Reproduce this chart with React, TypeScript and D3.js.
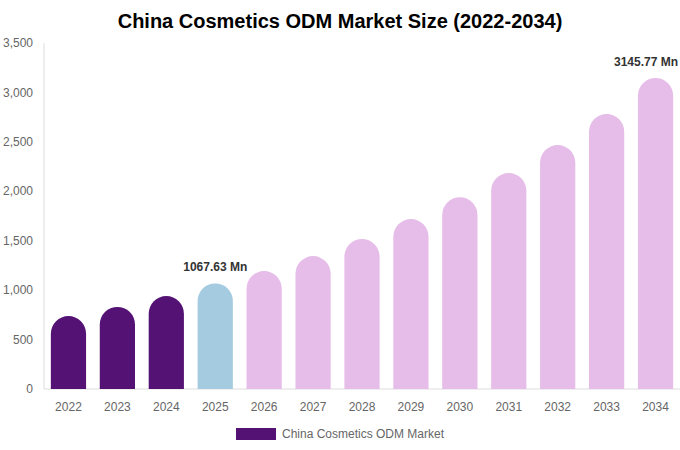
import React, { useEffect, useRef } from 'react';
import * as d3 from 'd3';

const years = ['2022', '2023', '2024', '2025', '2026', '2027', '2028', '2029', '2030', '2031', '2032', '2033', '2034'];
const values = [738, 830, 940, 1067.63, 1193, 1345, 1517, 1719, 1940, 2184, 2467, 2781, 3145.77];
// which bars are historic / base / forecast
const phases = ['hist', 'hist', 'hist', 'base', 'fc', 'fc', 'fc', 'fc', 'fc', 'fc', 'fc', 'fc', 'fc'];
const yTicks = [0, 500, 1000, 1500, 2000, 2500, 3000, 3500];
const labelled = ['2025', '2034'];

const W = 680;
const H = 450;

const App: React.FC = () => {
  const svgRef = useRef<SVGSVGElement>(null);

  useEffect(() => {
    if (!svgRef.current) return;
    const svg = d3.select(svgRef.current);
    svg.selectAll('*').remove();

    const margin = { top: 43, right: 0, bottom: 61, left: 44 };
    const width = W - margin.left - margin.right;
    const height = H - margin.top - margin.bottom;
    const font = 'Liberation Sans, Arial, sans-serif';

    const colors: Record<string, string> = { hist: '#541275', base: '#a4cbdf', fc: '#e6bce8' };

    svg.append('text')
      .attr('x', W / 2)
      .attr('y', 28)
      .attr('text-anchor', 'middle')
      .attr('font-family', font)
      .attr('font-size', 20)
      .attr('font-weight', 'bold')
      .attr('fill', '#000')
      .text('China Cosmetics ODM Market Size (2022-2034)');

    const g = svg.append('g').attr('transform', `translate(${margin.left},${margin.top})`);

    const x = d3.scaleBand().domain(years).range([0, width]).paddingInner(0.28).paddingOuter(0.14);
    const y = d3.scaleLinear().domain([0, 3500]).range([height, 0]);

    // axis lines
    g.append('line').attr('x1', 0).attr('x2', 0).attr('y1', 0).attr('y2', height)
      .attr('stroke', '#ddd').attr('stroke-width', 1);
    g.append('line').attr('x1', 0).attr('x2', width).attr('y1', height).attr('y2', height)
      .attr('stroke', '#ddd').attr('stroke-width', 1);

    // y ticks
    g.selectAll('.ytick')
      .data(yTicks)
      .enter()
      .append('text')
      .attr('x', -11)
      .attr('y', d => y(d))
      .attr('dy', '0.35em')
      .attr('text-anchor', 'end')
      .attr('font-family', font)
      .attr('font-size', 12)
      .attr('fill', '#666')
      .text(d => d3.format(',')(d));

    // x ticks
    g.selectAll('.xtick')
      .data(years)
      .enter()
      .append('text')
      .attr('x', d => (x(d) || 0) + x.bandwidth() / 2)
      .attr('y', height + 22)
      .attr('text-anchor', 'middle')
      .attr('font-family', font)
      .attr('font-size', 12)
      .attr('fill', '#666')
      .text(d => d);

    // bars with rounded tops
    const bw = x.bandwidth();
    const r = bw / 2;
    g.selectAll('.bar')
      .data(years.map((yr, i) => ({ yr, v: values[i], p: phases[i] })))
      .enter()
      .append('path')
      .attr('fill', d => colors[d.p])
      .attr('d', d => {
        const x0 = x(d.yr) || 0;
        const top = y(d.v);
        const rr = Math.min(r, height - top);
        return `M${x0},${height} L${x0},${top + rr} A${r},${rr} 0 0 1 ${x0 + bw},${top + rr} L${x0 + bw},${height} Z`;
      });

    // value labels (kept inside the chart's right edge)
    g.selectAll('.vlabel')
      .data(years.map((yr, i) => ({ yr, v: values[i] })).filter(d => labelled.includes(d.yr)))
      .enter()
      .append('text')
      .attr('x', d => (x(d.yr) || 0) + bw / 2)
      .attr('y', d => y(d.v) - 12)
      .attr('text-anchor', 'middle')
      .attr('font-family', font)
      .attr('font-size', 12)
      .attr('font-weight', 'bold')
      .attr('fill', '#333')
      .text(d => `${d.v.toFixed(2)} Mn`)
      .each(function () {
        const el = this as SVGTextElement;
        const box = el.getBBox();
        const over = box.x + box.width - (width - 2);
        if (over > 0) el.setAttribute('x', String(+el.getAttribute('x')! - over));
      });

    // legend
    const lg = svg.append('g').attr('transform', `translate(236,428)`);
    lg.append('rect').attr('width', 40).attr('height', 12).attr('fill', colors.hist);
    lg.append('text')
      .attr('x', 46)
      .attr('y', 6)
      .attr('dy', '0.35em')
      .attr('font-family', font)
      .attr('font-size', 12)
      .attr('fill', '#666')
      .text('China Cosmetics ODM Market');
  }, []);

  return (
    <svg
      ref={svgRef}
      width={W}
      height={H}
      style={{ display: 'block', position: 'absolute', top: 0, left: 0, background: '#fff' }}
    />
  );
};

export default App;
